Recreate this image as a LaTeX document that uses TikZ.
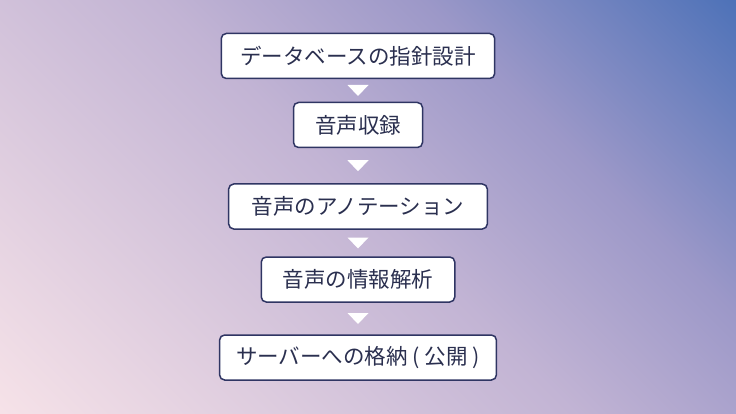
\documentclass[tikz,border=0pt]{standalone}
\usepackage{fontspec}
\setmainfont{Noto Sans CJK JP}
\usepackage{tikz}
\usetikzlibrary{calc}
\definecolor{bgpink}{HTML}{F6E2E8}
\definecolor{bglav}{HTML}{C2B4D4}
\definecolor{bgmid}{HTML}{9C98C8}
\definecolor{bgblue}{HTML}{4E72B8}
\definecolor{boxline}{HTML}{2F3563}
\definecolor{boxtext}{HTML}{2A2F4F}
\pgfdeclarehorizontalshading{bgshade}{100bp}{color(0bp)=(bgpink); color(14.64bp)=(bgpink); color(50bp)=(bglav); color(66.26bp)=(bgmid); color(85.36bp)=(bgblue); color(100bp)=(bgblue)}
\tikzset{
	flowbox/.style={draw=boxline, line width=1.5pt, fill=white, rounded corners=5pt, text=boxtext, font=\fontsize{21.5}{26}\selectfont, inner xsep=21.5pt, minimum height=45pt},
	downtri/.style={fill=white}
}
\def\downarrow(#1)(#2){\fill[downtri] ($(#1.south)!0.5!(#2.north)$) ++(-10.5,-5.5) -- ++(21,0) -- ++(-10.5,11) -- cycle;}

\begin{document}
\begin{tikzpicture}[x=1pt, y=-1pt]
		%%%%% START %%%%%
		
		\useasboundingbox (0, 0) rectangle (736, 414);
		\shade[shading=bgshade, shading angle=45] (0, 0) rectangle (736, 414);
		
		\node[flowbox, inner xsep=19pt] (db) at (358, 56) {データベースの指針設計};
		\node[flowbox] (rec) at (358, 125) {音声収録};
		\node[flowbox, inner xsep=23pt] (anno) at (358, 206.5) {音声のアノテーション};
		\node[flowbox] (ana) at (358, 279.5) {音声の情報解析};
		\node[flowbox, inner xsep=16.5pt] (srv) at (358, 357.5) {サーバーへの格納 ( 公開 )};
		
		\downarrow(db)(rec)
		\downarrow(rec)(anno)
		\downarrow(anno)(ana)
		\downarrow(ana)(srv)
		
		%%%%% END %%%%%
	\end{tikzpicture}
\end{document}
